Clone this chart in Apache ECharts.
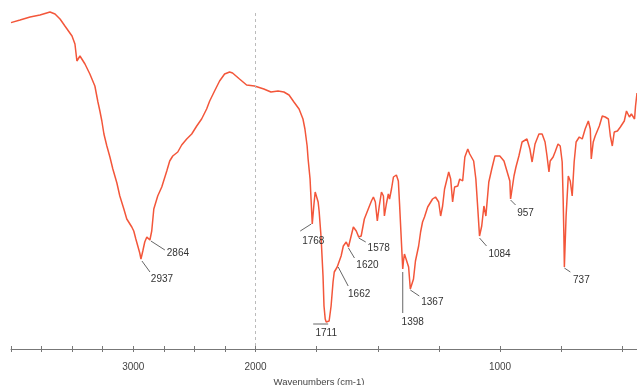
<!DOCTYPE html>
<html>
<head>
<meta charset="utf-8">
<script src="https://cdn.jsdelivr.net/npm/echarts@6/dist/echarts.min.js"></script>
<style>
  html, body { margin: 0; padding: 0; background: #fff; }
  #chart { width: 637px; height: 385px; }
</style>
</head>
<body>
<div id="chart"></div>
<script>
// FT-IR spectrum: wavenumber (cm-1) and transmittance (%T)
const wavenumbers = [
  4000, 3926, 3844, 3763, 3681, 3640, 3599, 3559, 3501, 3477, 3461, 3436, 3395, 3355, 3314,
  3289, 3273, 3257, 3240, 3216, 3191, 3167, 3134, 3110, 3077, 3053, 3012, 2996, 2979, 2963,
  2947, 2937, 2922, 2906, 2889, 2873, 2864, 2849, 2832, 2800, 2767, 2726, 2702, 2677, 2636,
  2604, 2563, 2522, 2481, 2441, 2400, 2375, 2335, 2294, 2253, 2212, 2188, 2131, 2073, 2008,
  1966, 1937, 1908, 1884, 1863, 1843, 1822, 1806, 1798, 1789, 1785, 1777, 1773, 1768, 1761,
  1756, 1748, 1744, 1740, 1732, 1724, 1720, 1715, 1711, 1703, 1699, 1691, 1683, 1678, 1666,
  1662, 1650, 1641, 1629, 1620, 1609, 1600, 1588, 1578, 1568, 1555, 1539, 1526, 1518, 1510,
  1502, 1494, 1485, 1477, 1473, 1465, 1457, 1452, 1444, 1436, 1424, 1416, 1411, 1403, 1398,
  1395, 1391, 1383, 1374, 1367, 1354, 1346, 1333, 1325, 1317, 1309, 1296, 1288, 1276, 1264,
  1251, 1243, 1235, 1227, 1210, 1202, 1194, 1186, 1173, 1165, 1153, 1144, 1132, 1124, 1108,
  1099, 1091, 1084, 1075, 1066, 1058, 1046, 1034, 1021, 1001, 984, 972, 960, 957, 943,
  935, 923, 910, 890, 878, 869, 857, 841, 828, 816, 808, 800, 795, 783, 775,
  763, 754, 746, 742, 739, 737, 730, 721, 713, 705, 697, 689, 676, 664, 652,
  639, 631, 627, 619, 611, 594, 582, 570, 557, 549, 541, 533, 520, 508, 492,
  483, 471, 463, 450, 446, 440
];
const transmittance = [
  81.6, 82.25, 83.0, 83.5, 84.25, 83.75, 82.5, 80.75, 78.25, 76.25, 72.0, 73.25, 71.25, 68.75, 65.75,
  61.75, 59.5, 57.0, 53.75, 50.75, 48.0, 45.0, 41.5, 38.25, 35.0, 32.5, 30.5, 29.5, 27.5, 25.75,
  24.0, 22.5, 24.5, 26.75, 28.0, 28.25, 27.25, 29.5, 35.0, 38.25, 40.5, 44.5, 47.0, 48.25, 49.25,
  51.0, 52.5, 53.75, 55.75, 57.5, 60.0, 62.0, 64.5, 67.0, 68.75, 69.25, 69.0, 67.5, 66.0, 65.75,
  65.0, 64.25, 64.5, 64.25, 63.5, 61.75, 60.0, 57.5, 55.0, 50.75, 47.5, 42.5, 37.5, 31.25, 36.25,
  39.25, 39.5, 36.75, 34.5, 28.0, 18.25, 10.75, 7.5, 6.75, 6.75, 7.0, 10.75, 16.75, 19.25, 20.5,
  20.75, 23.25, 25.75, 26.75, 25.5, 28.25, 30.5, 29.5, 28.0, 28.25, 32.5, 35.0, 37.0, 38.0, 36.75,
  32.0, 35.75, 39.25, 38.25, 33.25, 36.25, 38.75, 37.5, 40.0, 43.0, 43.5, 42.0, 36.25, 26.25, 20.0,
  22.0, 23.75, 24.25, 20.5, 15.0, 17.5, 22.0, 25.75, 29.25, 31.75, 33.0, 35.5, 35.75, 37.5, 38.0,
  36.75, 33.25, 35.75, 40.0, 44.25, 42.5, 36.75, 40.5, 40.75, 42.5, 42.0, 48.0, 50.0, 48.75, 47.0,
  42.5, 35.0, 28.25, 30.75, 35.75, 33.25, 41.75, 45.0, 48.25, 48.25, 47.0, 44.5, 42.0, 37.5, 43.25,
  45.5, 48.25, 51.75, 52.5, 50.0, 46.75, 51.25, 53.75, 53.75, 51.75, 48.25, 44.25, 47.0, 48.0, 49.25,
  51.25, 50.75, 46.75, 37.5, 28.25, 20.5, 33.25, 43.25, 42.0, 38.25, 46.75, 51.75, 53.0, 52.5, 55.0,
  57.0, 55.0, 47.5, 51.75, 53.25, 55.75, 58.25, 58.0, 57.5, 53.25, 50.75, 54.25, 54.5, 55.5, 57.0,
  59.5, 58.0, 58.75, 57.5, 60.75, 64.0
];

// annotated band positions (cm-1)
const peakWavenumbers = [2937, 2864, 1768, 1711, 1662, 1620, 1578, 1398, 1367, 1084, 957, 737];

// axis ticks (cm-1)
const tickWavenumbers = [4000, 3750, 3500, 3250, 3000, 2750, 2500, 2250, 2000, 1750, 1500, 1250, 1000, 750, 500];
const labelWavenumbers = [3000, 2000, 1000];

const AXIS_MIN_WN = 440;
const AXIS_MAX_WN = 4000;

// Below 2000 cm-1 the scale is expanded twice: map wavenumber to a linear axis coordinate
const BREAK = 2000;
function toAxis(w) { return w >= BREAK ? w : 2 * w - BREAK; }
function fromAxis(u) { return u >= BREAK ? u : (u + BREAK) / 2; }

const spectrum = wavenumbers.map((w, i) => [toAxis(w), transmittance[i]]);
const peaks = peakWavenumbers.map(w => [toAxis(w), transmittance[wavenumbers.indexOf(w)], w]);

// leader line (from a to b) and label centre (t), pixel offsets relative to each band minimum
const leaders = {
  2937: { a: [1, 2],   b: [9, 13],  t: [21, 20] },
  2864: { a: [1, 1],   b: [15, 10], t: [28, 13] },
  1768: { a: [-1, 0],  b: [-12, 7], t: [1, 17] },
  1711: { a: [-13, 2], b: [2, 2],   t: [0, 11] },
  1662: { a: [0, 1],   b: [10, 20], t: [21, 28] },
  1620: { a: [0, 1],   b: [6, 11],  t: [19, 18] },
  1578: { a: [0, 1],   b: [7, 5],   t: [20, 11] },
  1398: { a: [0, 3],   b: [0, 44],  t: [10, 53] },
  1367: { a: [0, 1],   b: [9, 7],   t: [22, 13] },
  1084: { a: [0, 2],   b: [7, 10],  t: [20, 18] },
  957:  { a: [0, 1],   b: [5, 6],   t: [15, 14] },
  737:  { a: [0, 1],   b: [6, 5],   t: [17, 13] }
};

const FONT = 'Liberation Sans, Arial, sans-serif';
const tickAxisValues = tickWavenumbers.map(toAxis);

const chart = echarts.init(document.getElementById('chart'), null, { renderer: 'canvas' });
chart.setOption({
  animation: false,
  backgroundColor: '#ffffff',
  grid: { left: 11, right: 0, top: 9, bottom: 36, outerBoundsMode: 'none', containLabel: false },
  xAxis: [
    {
      type: 'value',
      inverse: true,
      min: toAxis(AXIS_MIN_WN),
      max: toAxis(AXIS_MAX_WN),
      name: 'Wavenumbers (cm-1)',
      nameLocation: 'middle',
      nameGap: 25,
      nameTextStyle: { fontFamily: FONT, fontSize: 9.5, color: '#444', padding: [0, 10, 0, 0] },
      axisLine: { show: true, lineStyle: { color: '#777', width: 1 } },
      axisTick: { show: true, length: 3, customValues: tickAxisValues, lineStyle: { color: '#777' } },
      axisLabel: {
        show: true,
        customValues: labelWavenumbers.map(toAxis),
        formatter: v => String(Math.round(fromAxis(v))),
        margin: 13,
        fontFamily: FONT,
        fontSize: 10,
        color: '#444'
      },
      splitLine: { show: false }
    },
    {
      type: 'value',
      inverse: true,
      position: 'bottom',
      min: toAxis(AXIS_MIN_WN),
      max: toAxis(AXIS_MAX_WN),
      axisLine: { show: false },
      axisTick: { show: true, inside: true, length: 3, customValues: tickAxisValues, lineStyle: { color: '#777' } },
      axisLabel: { show: false },
      splitLine: { show: false }
    }
  ],
  yAxis: { type: 'value', min: 0, max: 85, show: false },
  series: [
    {
      type: 'line',
      data: spectrum,
      showSymbol: false,
      symbol: 'none',
      lineStyle: { color: '#f3563a', width: 1.5 },
      z: 3,
      markLine: {
        silent: true,
        symbol: 'none',
        label: { show: false },
        lineStyle: { color: '#bbbbbb', type: [3, 3], width: 1 },
        data: [[{ coord: [toAxis(BREAK), 84] }, { coord: [toAxis(BREAK), 0] }]]
      }
    },
    {
      type: 'custom',
      coordinateSystem: 'cartesian2d',
      data: peaks,
      encode: { x: 0, y: 1 },
      clip: false,
      z: 4,
      renderItem: function (params, api) {
        const p = api.coord([api.value(0), api.value(1)]);
        const s = leaders[api.value(2)];
        return {
          type: 'group',
          children: [
            {
              type: 'line',
              shape: { x1: p[0] + s.a[0], y1: p[1] + s.a[1], x2: p[0] + s.b[0], y2: p[1] + s.b[1] },
              style: { stroke: '#555', lineWidth: 0.9 }
            },
            {
              type: 'text',
              x: p[0] + s.t[0],
              y: p[1] + s.t[1],
              style: {
                text: String(api.value(2)),
                fill: '#333',
                fontSize: 10,
                fontFamily: FONT,
                align: 'center',
                verticalAlign: 'middle'
              }
            }
          ]
        };
      }
    }
  ]
});
</script>
</body>
</html>
